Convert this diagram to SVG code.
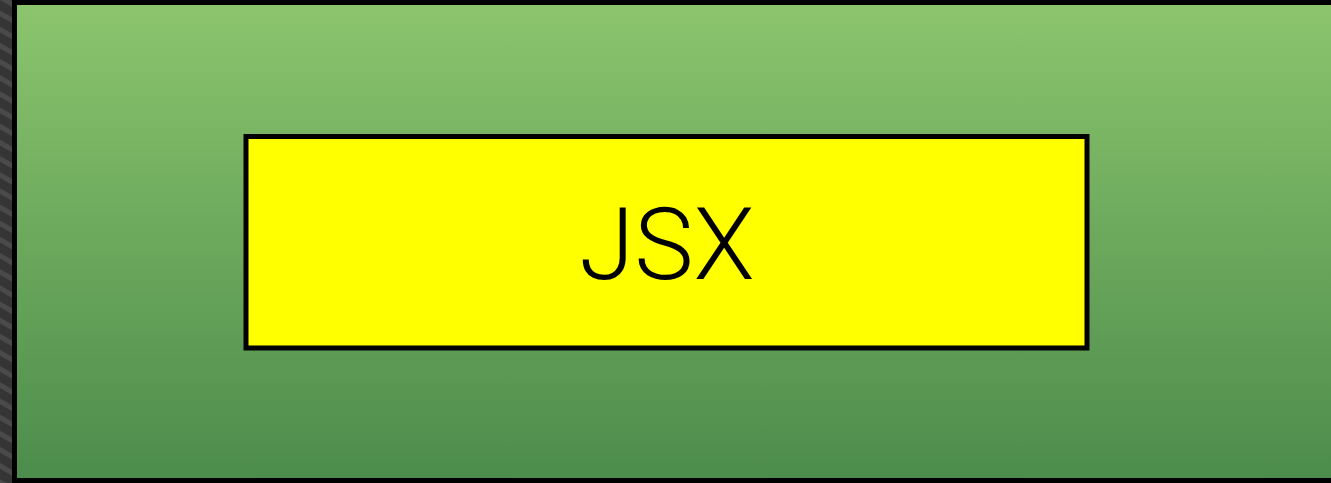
<svg xmlns="http://www.w3.org/2000/svg" width="1331" height="483" viewBox="0 0 1331 483">
<defs>
<linearGradient id="g" x1="0" y1="0" x2="0" y2="1">
<stop offset="0" stop-color="#8cc56d"/>
<stop offset="1" stop-color="#4c8c4c"/>
</linearGradient>
<pattern id="stripes" width="14" height="14" patternUnits="userSpaceOnUse" patternTransform="rotate(-60)">
<rect width="14" height="14" fill="#353535"/>
<rect width="5" height="14" fill="#4a4a4a"/>
</pattern>
<style>
.box{stroke:#000;stroke-width:5}
.lbl{font-family:Roboto,"Helvetica Neue","Liberation Sans",sans-serif;font-weight:300;font-size:100px;fill:#000}
</style>
</defs>
<rect x="0" y="0" width="14" height="483" fill="url(#stripes)"/>
<g id="outer">
<rect class="box" x="14.5" y="2.5" width="1330" height="478" fill="url(#g)"/>
</g>
<g id="jsx">
<rect class="box" x="246" y="136.5" width="841" height="211.5" fill="#ffff00"/>
<text class="lbl" x="667" y="279" text-anchor="middle">JSX</text>
</g>
<g id="connectors"/>
</svg>
